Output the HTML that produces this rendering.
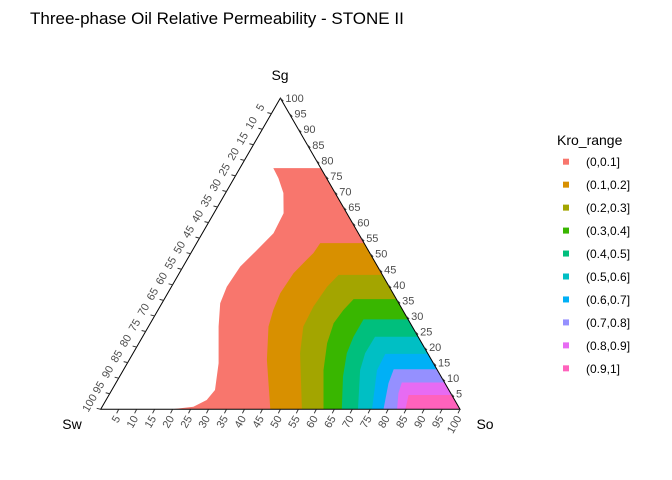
<!DOCTYPE html>
<html><head><meta charset="utf-8"><style>
body{margin:0;background:#fff;}
svg{display:block;font-family:"Liberation Sans",sans-serif;}
</style></head><body>
<svg id="chart" width="672" height="480" viewBox="0 0 672 480">
<text x="30" y="24" font-size="17" fill="#000">Three-phase Oil Relative Permeability - STONE II</text>
<g id="bands"></g>
<g id="axes"></g>
<g id="legend"></g>
</svg>
<script>
const categories=["(0,0.1]","(0.1,0.2]","(0.2,0.3]","(0.3,0.4]","(0.4,0.5]","(0.5,0.6]","(0.6,0.7]","(0.7,0.8]","(0.8,0.9]","(0.9,1]"];
const colors=["#F8766D","#D89000","#A3A500","#39B600","#00BF7D","#00BFC4","#00B0F6","#9590FF","#E76BF3","#FF62BC"];
// left boundary of each band, as [So, Sg] percentages (top first, ending at bottom Sg=0)
const boundSo=[
 [9.3,12.3,16.1,19.4,19.8,17.9,15.9,15.4,16.2,19.5,25.4,28.7,28.0,25.4,19.8],
 [34.4,34.1,33.3,31.8,31.3,32.1,33.4,38.3,47.2],
 [44.6,43.3,42.7,43.1,46.5,56.0],
 [52.7,51.6,51.0,52.4,55.7,62.0],
 [58.7,58.7,59.5,62.2,67.1],
 [64.7,64.6,65.9,71.6],
 [70.3,70.6,75.5],
 [75.1,75.9,78.7],
 [79.5,80.3,82.5],
 [83.4,84.8]];
const boundSg=[
 [77.5,74.3,69.5,63.0,56.6,51.2,45.9,39.4,34.1,26.6,14.8,6.2,3.0,0.8,0],
 [53.4,50.2,48.1,43.7,37.3,31.9,26.6,15.9,0],
 [43.2,39.4,33.0,26.6,18.0,0],
 [35.4,31.9,27.7,21.2,12.6,0],
 [28.9,23.3,18.0,10.5,0],
 [23.3,18.0,12.6,0],
 [17.8,12.6,0],
 [12.9,8.4,0],
 [8.6,5.1,0],
 [4.6,0]];
const ticks=[5,10,15,20,25,30,35,40,45,50,55,60,65,70,75,80,85,90,95,100];
const X0=100.7,Y0=409.3,W=359.3,H=311.2;
const NS="http://www.w3.org/2000/svg";
function px(so,sg){return [X0+W*(so+sg/2)/100, Y0-H*sg/100];}
function mk(tag,attrs,parent){const e=document.createElementNS(NS,tag);for(const k in attrs)e.setAttribute(k,attrs[k]);parent.appendChild(e);return e;}
const bands=document.getElementById('bands');
categories.forEach((c,i)=>{
  const so=boundSo[i],sg=boundSg[i];
  const pts=[];
  const topSg=sg[0];
  pts.push(px(100-topSg,topSg));
  for(let k=0;k<so.length;k++)pts.push(px(so[k],sg[k]));
  pts.push(px(100,0));
  const p=mk('polygon',{points:pts.map(q=>q[0].toFixed(1)+','+q[1].toFixed(1)).join(' '),fill:colors[i]},bands);
  
  
});
const axes=document.getElementById('axes');
const A=px(0,0),B=px(100,0),C=px(0,100);
const tri=mk('polygon',{points:[A,B,C].map(q=>q.join(',')).join(' '),fill:'none',stroke:'#000','stroke-width':1},axes);


ticks.forEach(t=>{
  // bottom axis: So
  let p=px(t,0);
  mk('line',{x1:p[0],y1:p[1],x2:p[0]-2,y2:p[1]+4,stroke:'#333'},axes);
  let tx=mk('text',{x:p[0]+2,y:p[1]+9,'font-size':11,fill:'#4d4d4d','text-anchor':'end',transform:`rotate(-60 ${p[0]+2} ${p[1]+9})`},axes);
  tx.textContent=t;
  
  
  // left axis: Sw (Sg=100-t, So=0)
  p=px(0,100-t);
  mk('line',{x1:p[0],y1:p[1],x2:p[0]-4,y2:p[1]-1,stroke:'#333'},axes);
  const lx=p[0]-10.5,ly=p[1]-6;
  tx=mk('text',{x:lx,y:ly,'font-size':11,fill:'#4d4d4d','text-anchor':'middle','dominant-baseline':'central',transform:`rotate(-60 ${lx} ${ly})`},axes);
  tx.textContent=t;
  
  
  // right axis: Sg
  p=px(100-t,t);
  mk('line',{x1:p[0],y1:p[1],x2:p[0]+3,y2:p[1]+3,stroke:'#333'},axes);
  tx=mk('text',{x:p[0]+5,y:p[1]+4,'font-size':11,fill:'#4d4d4d'},axes);
  tx.textContent=t;
  
  
});
let tt=mk('text',{x:280,y:80,'font-size':14,'text-anchor':'middle',fill:'#000'},axes);tt.textContent='Sg';


tt=mk('text',{x:72,y:429,'font-size':14,'text-anchor':'middle',fill:'#000'},axes);tt.textContent='Sw';


tt=mk('text',{x:485,y:429,'font-size':14,'text-anchor':'middle',fill:'#000'},axes);tt.textContent='So';


const lg=document.getElementById('legend');
tt=mk('text',{x:557,y:145,'font-size':14,fill:'#000'},lg);tt.textContent='Kro_range';


categories.forEach((c,i)=>{
  const y=161.7+i*22.96;
  const r=mk('rect',{x:563,y:y-3,width:6,height:6,fill:colors[i]},lg);
  
  
  const t=mk('text',{x:586,y:y+4.5,'font-size':12,fill:'#000'},lg);t.textContent=c;
  
  
});
</script>
</body></html>
